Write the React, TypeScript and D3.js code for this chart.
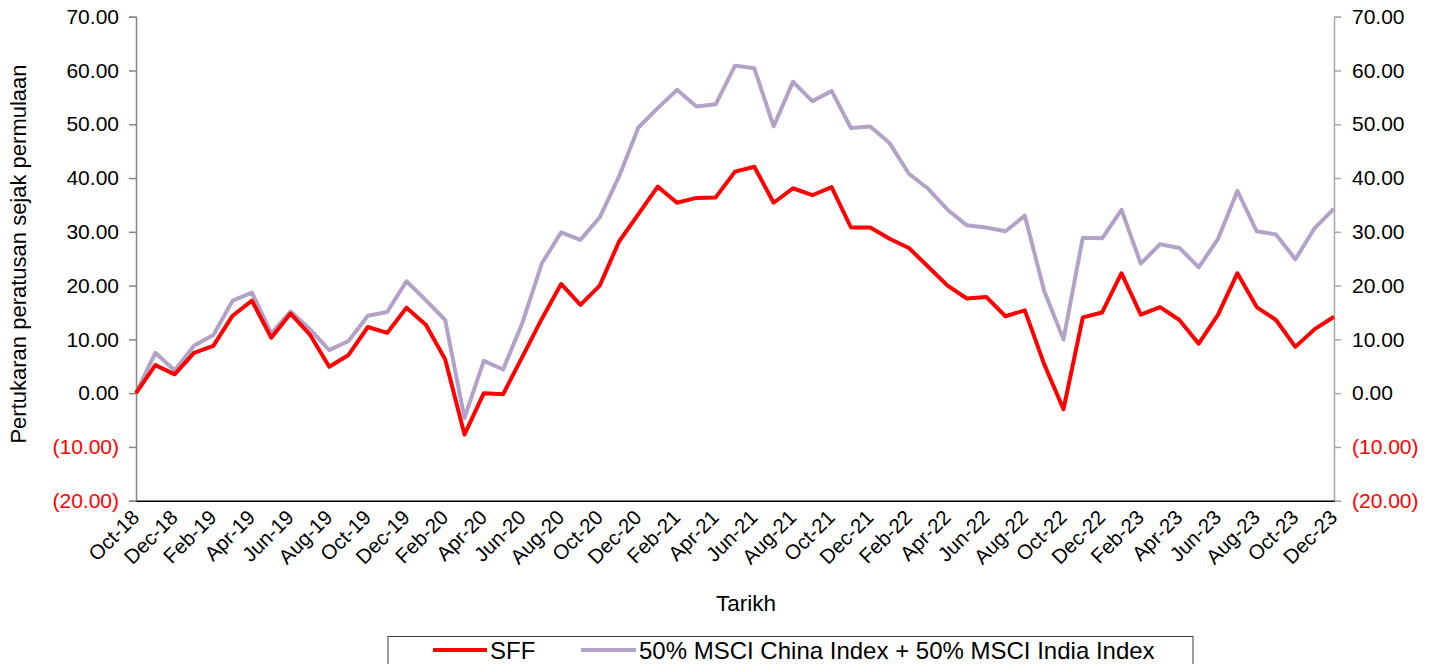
import React, { useEffect, useRef } from "react";
import * as d3 from "d3";

const months = [
  "Oct-18", "Nov-18", "Dec-18", "Jan-19", "Feb-19", "Mar-19", "Apr-19", "May-19", "Jun-19", "Jul-19", "Aug-19", "Sep-19",
  "Oct-19", "Nov-19", "Dec-19", "Jan-20", "Feb-20", "Mar-20", "Apr-20", "May-20", "Jun-20", "Jul-20", "Aug-20", "Sep-20",
  "Oct-20", "Nov-20", "Dec-20", "Jan-21", "Feb-21", "Mar-21", "Apr-21", "May-21", "Jun-21", "Jul-21", "Aug-21", "Sep-21",
  "Oct-21", "Nov-21", "Dec-21", "Jan-22", "Feb-22", "Mar-22", "Apr-22", "May-22", "Jun-22", "Jul-22", "Aug-22", "Sep-22",
  "Oct-22", "Nov-22", "Dec-22", "Jan-23", "Feb-23", "Mar-23", "Apr-23", "May-23", "Jun-23", "Jul-23", "Aug-23", "Sep-23",
  "Oct-23", "Nov-23", "Dec-23",
];

const sff = [
  0, 5.2, 3.5, 7.5, 8.8, 14.4, 17.2, 10.3, 14.8, 10.9, 4.9, 7.1,
  12.3, 11.2, 15.9, 12.7, 6.3, -7.7, 0.0, -0.2, 6.8, 13.8, 20.3, 16.4,
  20.0, 28.2, 33.3, 38.4, 35.4, 36.3, 36.4, 41.2, 42.1, 35.4, 38.1, 36.8,
  38.3, 30.8, 30.8, 28.7, 27.0, 23.5, 20.0, 17.6, 17.9, 14.3, 15.4, 5.4,
  -3.0, 14.1, 15.0, 22.3, 14.6, 16.0, 13.6, 9.2, 14.6, 22.3, 16.0, 13.6,
  8.6, 11.9, 14.2,
];

const benchmark = [
  0, 7.5, 4.2, 8.8, 10.8, 17.2, 18.7, 11.1, 15.2, 11.9, 8.0, 9.7,
  14.4, 15.1, 20.8, 17.3, 13.6, -4.6, 6.0, 4.4, 13.1, 24.1, 29.9, 28.5,
  32.7, 40.3, 49.4, 53.0, 56.4, 53.3, 53.7, 60.9, 60.4, 49.6, 57.9, 54.3,
  56.2, 49.3, 49.6, 46.5, 40.8, 38.0, 34.1, 31.2, 30.8, 30.1, 33.0, 19.0,
  10.0, 28.9, 28.8, 34.1, 24.1, 27.7, 27.0, 23.4, 28.7, 37.6, 30.1, 29.5,
  24.9, 30.7, 34.3,
];

const yTicks = [-20, -10, 0, 10, 20, 30, 40, 50, 60, 70];
const seriesNames = ["SFF", "50% MSCI China Index + 50% MSCI India Index"];
const seriesColors = ["#FF0000", "#B3A2C7"];

const FONT = "'Liberation Sans', Arial, sans-serif";

const fmt = (v: number) =>
  v < 0 ? `(${Math.abs(v).toFixed(2)})` : v.toFixed(2);

const App = () => {
  const ref = useRef<SVGSVGElement>(null);

  useEffect(() => {
    const W = 1435;
    const H = 664;
    const left = 136;
    const right = 1334;
    const top = 16.7;
    const bottom = 500.7;

    const svg = d3.select(ref.current).attr("width", W).attr("height", H);
    svg.selectAll("*").remove();

    const x = d3.scalePoint().domain(months).range([left, right]);
    const y = d3.scaleLinear().domain([-20, 70]).range([bottom, top]);

    // left axis
    const gl = svg
      .append("g")
      .attr("transform", `translate(${left},0)`)
      .call(d3.axisLeft(y).tickValues(yTicks).tickFormat((d) => fmt(+d)).tickSizeOuter(0).tickSize(7).tickPadding(10));
    gl.select(".domain").attr("stroke", "#868686").attr("stroke-width", 1.5);
    gl.selectAll(".tick line").attr("stroke", "#868686").attr("stroke-width", 1.5);
    gl.selectAll(".tick text")
      .attr("font-family", FONT)
      .attr("font-size", 21)
      .attr("fill", (d: any) => (d < 0 ? "#FF0000" : "#000"));

    // right axis
    const gr = svg
      .append("g")
      .attr("transform", `translate(${right},0)`)
      .call(d3.axisRight(y).tickValues(yTicks).tickFormat((d) => fmt(+d)).tickSizeOuter(0).tickSize(7).tickPadding(11));
    gr.select(".domain").attr("stroke", "#A6A6A6").attr("stroke-width", 1.5);
    gr.selectAll(".tick line").attr("stroke", "#A6A6A6").attr("stroke-width", 1.5);
    gr.selectAll(".tick text")
      .attr("font-family", FONT)
      .attr("font-size", 21)
      .attr("fill", (d: any) => (d < 0 ? "#FF0000" : "#000"));

    // bottom axis
    const gb = svg
      .append("g")
      .attr("transform", `translate(0,${bottom})`)
      .call(
        d3.axisBottom(x)
          .tickValues(months.filter((_, i) => i % 2 === 0))
          .tickSize(0)
          .tickSizeOuter(0)
      );
    gb.select(".domain").attr("stroke", "#000").attr("stroke-width", 1.5);
    gb.selectAll(".tick text")
      .attr("font-family", FONT)
      .attr("font-size", 20.5)
      .attr("fill", "#000")
      .attr("text-anchor", "end")
      .attr("dy", null)
      .attr("y", 0)
      .attr("transform", "translate(4,18) rotate(-45)");

    // lines
    const series = [sff, benchmark];
    const line = d3
      .line<number>()
      .x((_, i) => x(months[i]) as number)
      .y((d) => y(d));
    [1, 0].forEach((k) => {
      svg
        .append("path")
        .datum(series[k])
        .attr("fill", "none")
        .attr("stroke", seriesColors[k])
        .attr("stroke-width", 4)
        .attr("stroke-linejoin", "round")
        .attr("d", line);
    });

    // axis titles
    svg
      .append("text")
      .attr("transform", `translate(26,254) rotate(-90)`)
      .attr("text-anchor", "middle")
      .attr("font-family", FONT)
      .attr("font-size", 22)
      .text("Pertukaran peratusan sejak permulaan");

    svg
      .append("text")
      .attr("x", 746)
      .attr("y", 611)
      .attr("text-anchor", "middle")
      .attr("font-family", FONT)
      .attr("font-size", 22.5)
      .text("Tarikh");

    // legend
    const lg = svg.append("g");
    lg.append("rect")
      .attr("x", 388)
      .attr("y", 636.5)
      .attr("width", 805)
      .attr("height", 40)
      .attr("fill", "#fff")
      .attr("stroke", "#404040")
      .attr("stroke-width", 1);
    const items = [
      { x1: 433, x2: 487, tx: 490 },
      { x1: 581, x2: 636, tx: 639 },
    ];
    items.forEach((it, k) => {
      lg.append("line")
        .attr("x1", it.x1)
        .attr("x2", it.x2)
        .attr("y1", 650)
        .attr("y2", 650)
        .attr("stroke", seriesColors[k])
        .attr("stroke-width", 4);
      lg.append("text")
        .attr("x", it.tx)
        .attr("y", 658.5)
        .attr("font-family", FONT)
        .attr("font-size", 24)
        .text(seriesNames[k]);
    });
  }, []);

  return (
    <svg
      ref={ref}
      style={{ position: "absolute", left: 0, top: 0, background: "#fff" }}
    ></svg>
  );
};

export default App;
